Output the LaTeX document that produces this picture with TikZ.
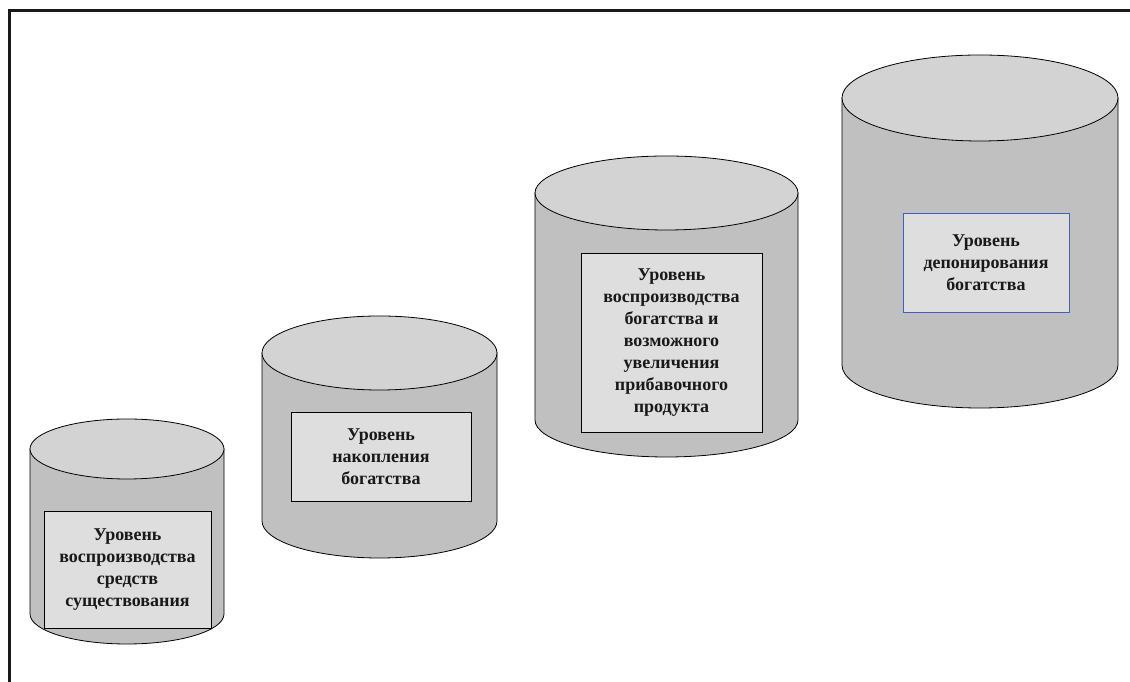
\documentclass[tikz,border=0pt]{standalone}
\usepackage{fontspec}
\setmainfont{Liberation Serif}
\usepackage{tikz}

\definecolor{cylbody}{HTML}{C0C0C0}
\definecolor{cyltop}{HTML}{D3D3D3}
\definecolor{boxfill}{HTML}{DEDEDE}
\definecolor{boxblue}{HTML}{4060C0}

\tikzset{
	levelbox/.style={draw=black, fill=boxfill, line width=0.8pt, align=center, inner sep=0pt,
		font=\fontsize{18}{22}\selectfont\bfseries, text=black!90}
}

\begin{document}
\begin{tikzpicture}[x=1pt, y=1pt]
\useasboundingbox (0,0) rectangle (1130,682);
\draw[line width=3pt, black!90] (9.5,0) -- (9.5,671.5) -- (1130,671.5);

\foreach \cx/\rx/\yt/\yb/\ry in {127/97/233/68/30, 379.5/117.5/329/161/37, 666.5/131.5/489/262/37, 980/138/584/317/43} {
	\filldraw[fill=cylbody, draw=black, line width=0.8pt] ({\cx-\rx}, \yt) -- ({\cx-\rx}, \yb)
		arc[start angle=180, end angle=360, x radius=\rx pt, y radius=\ry pt] -- ({\cx+\rx}, \yt) -- cycle;
	\filldraw[fill=cyltop, draw=black, line width=0.8pt] (\cx, \yt) ellipse[x radius=\rx pt, y radius=\ry pt];
}

\node[levelbox, minimum width=167pt, minimum height=117pt] (subsist) at (127.5, 112.5)
	{Уровень\\воспроизводства\\средств\\существования};
\node[levelbox, minimum width=180pt, minimum height=89pt] (accum) at (381, 225.5)
	{Уровень\\накопления\\богатства};
\node[levelbox, minimum width=181pt, minimum height=179pt] (reprod) at (671.5, 339.5)
	{Уровень\\воспроизводства\\богатства и\\возможного\\увеличения\\прибавочного\\продукта};
\node[levelbox, draw=boxblue, minimum width=166pt, minimum height=99pt] (deposit) at (986, 419.5)
	{Уровень\\депонирования\\богатства};
\end{tikzpicture}
\end{document}
